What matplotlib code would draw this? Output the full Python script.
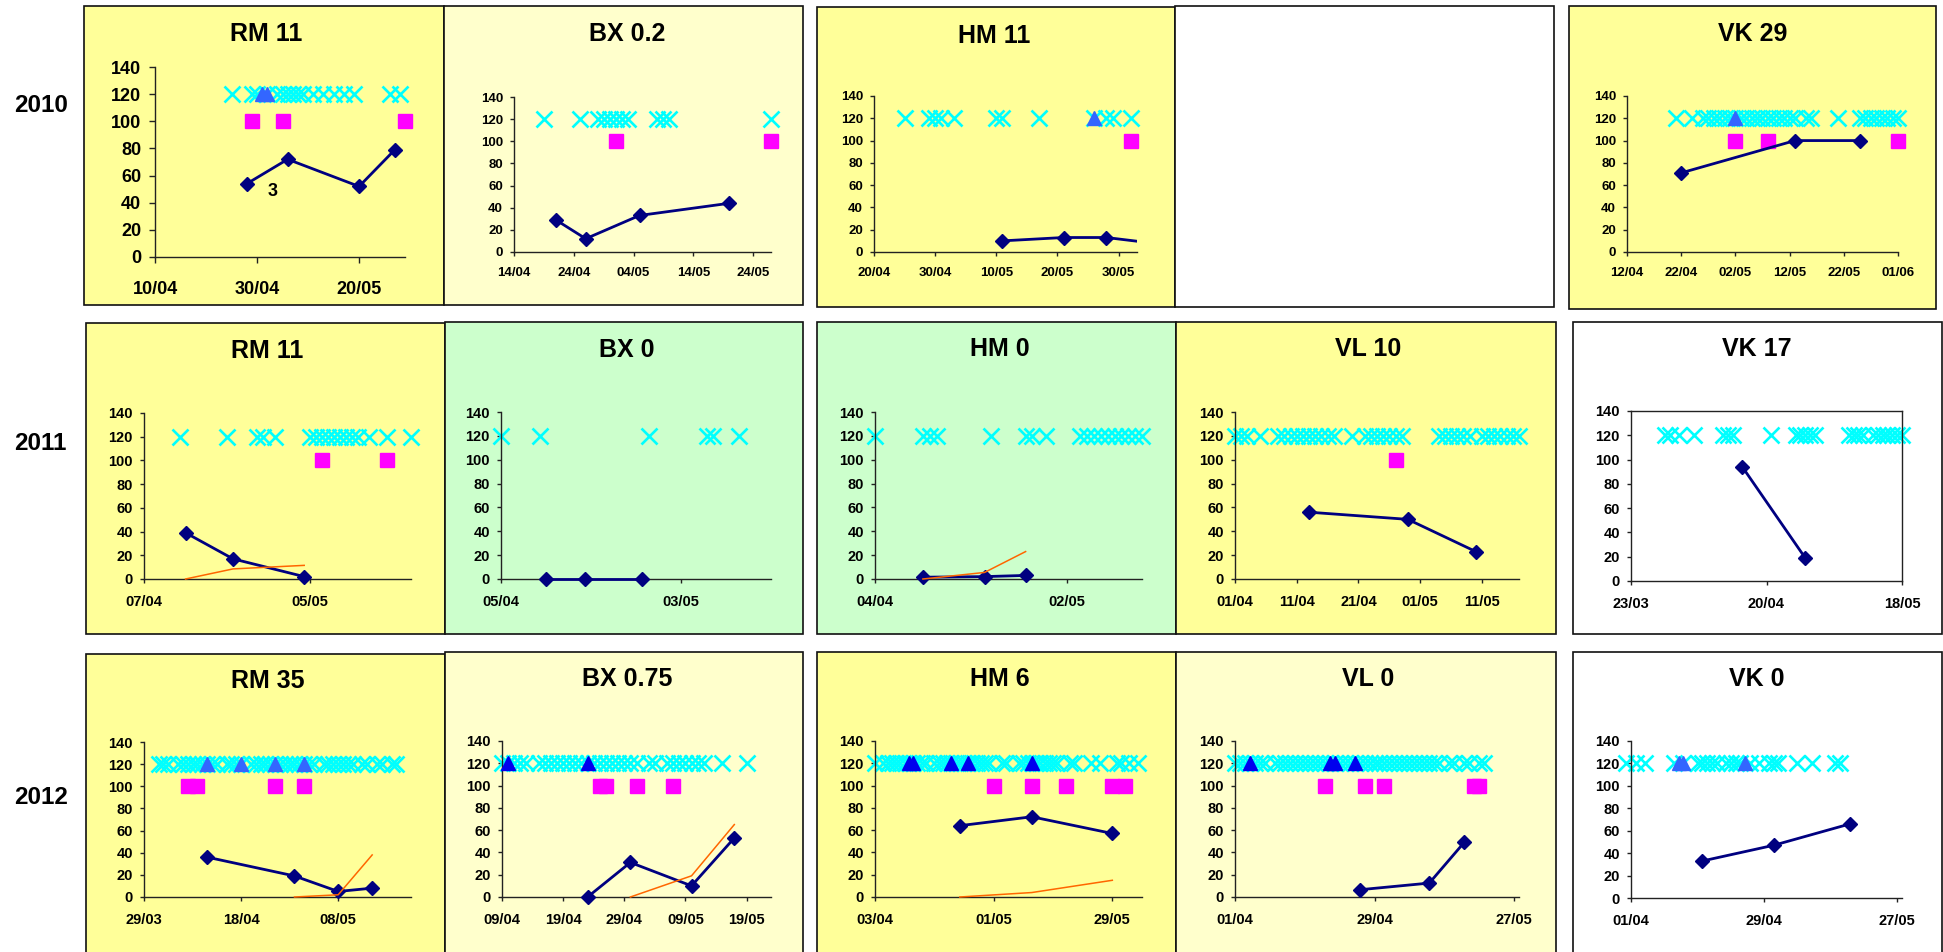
import datetime as dt
import matplotlib
matplotlib.use("Agg")
import matplotlib.pyplot as plt
import matplotlib.dates as mdates
from matplotlib.patches import Rectangle

plt.rcParams['font.family'] = ['Liberation Sans', 'DejaVu Sans']
plt.rcParams['font.weight'] = 'bold'

W, H = 1943, 952

CROSS_Y = 120
TRI_Y = 120
SQUARE_Y = 100

# ---------------- 2010 ----------------
rm10_xlim = ["04-10", "05-29"]
rm10_ticks = ["04-10", "04-30", "05-20"]
rm10_cross = ["04-25", "04-29", "04-30", "05-02", "05-04", "05-05", "05-06", "05-07", "05-08",
              "05-09", "05-11", "05-13", "05-15", "05-17", "05-19", "05-26", "05-28"]
rm10_tri = ["05-01", "05-02"]
rm10_sq = ["04-29", "05-05", "05-29"]
rm10_dia_d = ["04-28", "05-06", "05-20", "05-27"]
rm10_dia_v = [54, 72, 52, 79]

bx10_xlim = ["04-14", "05-27"]
bx10_ticks = ["04-14", "04-24", "05-04", "05-14", "05-24"]
bx10_cross = ["04-19", "04-25", "04-28", "04-29", "04-30", "05-01", "05-02", "05-03",
              "05-08", "05-09", "05-10", "05-27"]
bx10_sq = ["05-01", "05-27"]
bx10_dia_d = ["04-21", "04-26", "05-05", "05-20"]
bx10_dia_v = [29, 12, 33, 44]

hm10_xlim = ["04-20", "06-02"]
hm10_ticks = ["04-20", "04-30", "05-10", "05-20", "05-30"]
hm10_cross = ["04-25", "04-29", "04-30", "05-01", "05-03", "05-10", "05-11", "05-17",
              "05-26", "05-28", "05-29", "06-01"]
hm10_tri = ["05-26"]
hm10_sq = ["06-01"]
hm10_dia_d = ["05-11", "05-21", "05-28", "06-06"]
hm10_dia_v = [10, 13, 13, 7]

vk10_xlim = ["04-12", "06-01"]
vk10_ticks = ["04-12", "04-22", "05-02", "05-12", "05-22", "06-01"]
vk10_cross = ["04-21", "04-24", "04-26", "04-27", "04-28", "04-29", "04-30", "05-01", "05-02",
              "05-03", "05-04", "05-05", "05-06", "05-07", "05-08", "05-09", "05-10", "05-11",
              "05-12", "05-13", "05-15", "05-16", "05-21", "05-25", "05-26", "05-27", "05-28",
              "05-29", "05-30", "05-31", "06-01"]
vk10_tri = ["05-02"]
vk10_sq = ["05-02", "05-08", "06-01"]
vk10_dia_d = ["04-22", "05-13", "05-25"]
vk10_dia_v = [71, 100, 100]

# ---------------- 2011 ----------------
rm11_xlim = ["04-07", "05-22"]
rm11_ticks = ["04-07", "05-05"]
rm11_cross = ["04-13", "04-21", "04-26", "04-27", "04-29", "05-05", "05-06", "05-07", "05-08",
              "05-09", "05-10", "05-11", "05-12", "05-13", "05-15", "05-18", "05-22"]
rm11_sq = ["05-07", "05-18"]
rm11_dia_d = ["04-14", "04-22", "05-04"]
rm11_dia_v = [39, 17, 2]
rm11_org_v = [0, 8.5, 11.5]

bx11_xlim = ["04-05", "05-17"]
bx11_ticks = ["04-05", "05-03"]
bx11_cross = ["04-05", "04-11", "04-28", "05-07", "05-08", "05-12"]
bx11_dia_d = ["04-12", "04-18", "04-27"]
bx11_dia_v = [0, 0, 0]

hm11_xlim = ["04-04", "05-13"]
hm11_ticks = ["04-04", "05-02"]
hm11_cross = ["04-04", "04-11", "04-12", "04-13", "04-21", "04-26", "04-27", "04-29", "05-04",
              "05-05", "05-06", "05-07", "05-08", "05-09", "05-10", "05-11", "05-12", "05-13"]
hm11_dia_d = ["04-11", "04-20", "04-26"]
hm11_dia_v = [1.5, 2, 3]
hm11_org_v = [0, 5.5, 23]

vl11_xlim = ["04-01", "05-17"]
vl11_ticks = ["04-01", "04-11", "04-21", "05-01", "05-11"]
vl11_cross = ["04-01", "04-02", "04-03", "04-05", "04-08", "04-09", "04-10", "04-11", "04-12",
              "04-13", "04-14", "04-15", "04-16", "04-17", "04-20", "04-22", "04-23", "04-24",
              "04-25", "04-26", "04-27", "04-28", "05-04", "05-05", "05-06", "05-07", "05-08",
              "05-09", "05-11", "05-12", "05-13", "05-14", "05-15", "05-16", "05-17"]
vl11_sq = ["04-27"]
vl11_dia_d = ["04-13", "04-29", "05-10"]
vl11_dia_v = [56, 50, 23]

vk11_xlim = ["03-23", "05-18"]
vk11_ticks = ["03-23", "04-20", "05-18"]
vk11_cross = ["03-30", "03-31", "04-02", "04-05", "04-11", "04-12", "04-13", "04-21", "04-26",
              "04-27", "04-28", "04-29", "04-30", "05-07", "05-08", "05-09", "05-10", "05-12",
              "05-13", "05-14", "05-15", "05-16", "05-17", "05-18"]
vk11_dia_d = ["04-15", "04-28"]
vk11_dia_v = [94, 19]

# ---------------- 2012 ----------------
rm12_xlim = ["03-29", "05-23"]
rm12_ticks = ["03-29", "04-18", "05-08"]
rm12_cross = ["04-01", "04-02", "04-03", "04-05", "04-06", "04-07", "04-08", "04-09", "04-10",
              "04-11", "04-12", "04-13", "04-15", "04-16", "04-17", "04-18", "04-20", "04-21",
              "04-22", "04-23", "04-24", "04-25", "04-26", "04-27", "04-28", "04-29", "04-30",
              "05-01", "05-02", "05-03", "05-05", "05-06", "05-07", "05-08", "05-09", "05-10",
              "05-11", "05-13", "05-14", "05-16", "05-17", "05-19", "05-20"]
rm12_tri = ["04-11", "04-18", "04-25", "05-01"]
rm12_sq = ["04-07", "04-09", "04-25", "05-01"]
rm12_dia_d = ["04-11", "04-29", "05-08", "05-15"]
rm12_dia_v = [36, 19, 5, 8]
rm12_org_d = ["04-29", "05-08", "05-15"]
rm12_org_v = [0, 2, 38]

bx12_xlim = ["04-09", "05-23"]
bx12_ticks = ["04-09", "04-19", "04-29", "05-09", "05-19"]
bx12_cross = ["04-09", "04-10", "04-11", "04-12", "04-13", "04-15", "04-16", "04-17", "04-18",
              "04-19", "04-20", "04-21", "04-22", "04-23", "04-24", "04-25", "04-26", "04-27",
              "04-28", "04-29", "04-30", "05-01", "05-03", "05-04", "05-06", "05-07", "05-08",
              "05-09", "05-10", "05-11", "05-12", "05-15", "05-19"]
bx12_tri = ["04-10", "04-23"]
bx12_sq = ["04-25", "04-26", "05-01", "05-07"]
bx12_dia_d = ["04-23", "04-30", "05-10", "05-17"]
bx12_dia_v = [0, 31, 10, 53]
bx12_org_d = ["04-30", "05-10", "05-17"]
bx12_org_v = [0, 19, 65]

hm12_xlim = ["04-03", "06-05"]
hm12_ticks = ["04-03", "05-01", "05-29"]
hm12_cross = ["04-03", "04-05", "04-06", "04-07", "04-08", "04-09", "04-10", "04-11", "04-12",
              "04-13", "04-14", "04-15", "04-17", "04-18", "04-19", "04-20", "04-21", "04-22",
              "04-23", "04-24", "04-25", "04-26", "04-27", "04-28", "04-29", "04-30", "05-03",
              "05-04", "05-07", "05-08", "05-09", "05-10", "05-11", "05-12", "05-13", "05-14",
              "05-15", "05-16", "05-19", "05-20", "05-24", "05-26", "05-30", "05-31", "06-02",
              "06-04"]
hm12_tri = ["04-11", "04-12", "04-21", "04-25", "05-10"]
hm12_sq = ["05-01", "05-10", "05-18", "05-29", "06-01"]
hm12_dia_d = ["04-23", "05-10", "05-29"]
hm12_dia_v = [64, 72, 57]
hm12_org_v = [0, 4, 15]

vl12_xlim = ["04-01", "05-28"]
vl12_ticks = ["04-01", "04-29", "05-27"]
vl12_cross = ["04-01", "04-02", "04-03", "04-04", "04-05", "04-06", "04-07", "04-09", "04-10",
              "04-11", "04-12", "04-13", "04-14", "04-15", "04-16", "04-17", "04-18", "04-19",
              "04-20", "04-21", "04-22", "04-23", "04-24", "04-25", "04-26", "04-27", "04-28",
              "04-29", "04-30", "05-01", "05-02", "05-03", "05-04", "05-05", "05-06", "05-07",
              "05-08", "05-09", "05-10", "05-11", "05-12", "05-14", "05-15", "05-17", "05-18",
              "05-20", "05-21"]
vl12_tri = ["04-04", "04-20", "04-21", "04-25"]
vl12_sq = ["04-19", "04-27", "05-01", "05-19", "05-20"]
vl12_dia_d = ["04-26", "05-10", "05-17"]
vl12_dia_v = [6.5, 12.5, 49]

vk12_xlim = ["04-01", "05-28"]
vk12_ticks = ["04-01", "04-29", "05-27"]
vk12_cross = ["03-31", "04-02", "04-04", "04-10", "04-12", "04-15", "04-16", "04-17", "04-18",
              "04-19", "04-21", "04-22", "04-23", "04-24", "04-26", "04-28", "04-30", "05-01",
              "05-02", "05-06", "05-09", "05-14", "05-15"]
vk12_tri = ["04-11", "04-12", "04-25"]
vk12_dia_d = ["04-16", "05-01", "05-17"]
vk12_dia_v = [33, 47, 66]

YELLOW = "#FFFF99"
PALE = "#FFFFCC"
GREEN = "#CCFFCC"
WHITE = "#FFFFFF"
ROYAL = "#3366FF"
BLUE = "#0000EE"


def days(year, items):
    return [dt.date(year, int(s[:2]), int(s[3:])) for s in items]


fig = plt.figure(figsize=(W / 100, H / 100), dpi=100)
fig.patch.set_facecolor("white")


def box(x0, x1, top, bottom, color):
    fig.add_artist(Rectangle((x0 / W, 1 - bottom / H), (x1 - x0) / W, (bottom - top) / H,
                             transform=fig.transFigure, facecolor=color,
                             edgecolor="#111111", lw=1.2, zorder=-10))


def panel(year, title, bg, rect, title_xy, axpx, xlim, ticks, cross, dia_d, dia_v,
          tri=None, sq=None, org_d=None, org_v=None, tri_col=ROYAL, fs=10.5, xpad=8.5,
          ypad=5, tlen=3, frame=False):
    box(*rect, bg)
    fig.text(title_xy[0] / W, 1 - title_xy[1] / H, title, ha="center", va="center",
             fontsize=18, fontweight="bold")
    left, right, y0, y140 = axpx
    ax = fig.add_axes([left / W, 1 - y0 / H, (right - left) / W, (y0 - y140) / H])
    ax.set_facecolor("none")
    lo, hi = days(year, xlim)

    cd = days(year, cross)
    ax.plot(cd, [CROSS_Y] * len(cd), ls="none", marker="x", ms=11, mew=1.9,
            color="#00FFFF", clip_on=False, zorder=2)
    if tri:
        td = days(year, tri)
        ax.plot(td, [TRI_Y] * len(td), ls="none", marker="^", ms=10.5, mfc=tri_col,
                mec=tri_col, clip_on=False, zorder=3)
    if sq:
        sd = days(year, sq)
        ax.plot(sd, [SQUARE_Y] * len(sd), ls="none", marker="s", ms=9.5, mfc="#FF00FF",
                mec="#FF00FF", clip_on=False, zorder=3)

    dd = days(year, dia_d)
    outside = any(d > hi for d in dd)
    ax.plot(dd, dia_v, color="#000080", lw=2, zorder=4, clip_on=outside)
    inside = [(d, v) for d, v in zip(dd, dia_v) if lo <= d <= hi]
    ax.plot([p[0] for p in inside], [p[1] for p in inside], ls="none", marker="D", ms=7,
            color="#000080", clip_on=False, zorder=4)
    if org_v is not None:
        od = days(year, org_d if org_d else dia_d)
        ax.plot(od, org_v, color="#FF6600", lw=1.1, zorder=5, clip_on=False)

    ax.set_xlim(lo, hi)
    ax.set_ylim(0, 140)
    ax.set_yticks(range(0, 141, 20))
    ax.set_xticks(days(year, ticks))
    ax.xaxis.set_major_formatter(mdates.DateFormatter("%d/%m"))
    for s in ["top", "right"]:
        ax.spines[s].set_visible(frame)
    for s in ax.spines.values():
        s.set_color("#222222")
        s.set_linewidth(1.0)
    ax.tick_params(direction="out", length=tlen, width=1, color="#222222",
                   labelsize=fs, labelcolor="black")
    ax.tick_params(axis="x", pad=xpad)
    ax.tick_params(axis="y", pad=ypad)
    return ax


# ---- row 2010 ----
ax = panel(2010, "RM 11", YELLOW, (84, 444, 6, 305), (266, 34), (155, 405, 257, 67),
           rm10_xlim, rm10_ticks, rm10_cross, rm10_dia_d, rm10_dia_v, tri=rm10_tri,
           sq=rm10_sq, fs=13, xpad=12.5, ypad=5.5, tlen=4.5)
ax.text(dt.date(2010, 5, 3), 48, "3", ha="center", va="center", fontsize=13,
        fontweight="bold")
panel(2010, "BX 0.2", PALE, (444, 803, 6, 305), (627, 34), (514, 771, 252, 97),
      bx10_xlim, bx10_ticks, bx10_cross, bx10_dia_d, bx10_dia_v, sq=bx10_sq, fs=9.5, xpad=8)
panel(2010, "HM 11", YELLOW, (817, 1175, 7, 307), (994, 36), (874, 1137, 252, 96),
      hm10_xlim, hm10_ticks, hm10_cross, hm10_dia_d, hm10_dia_v, tri=hm10_tri,
      sq=hm10_sq, fs=9.5, xpad=8)
box(1175, 1554, 6, 307, WHITE)
panel(2010, "VK 29", YELLOW, (1569, 1936, 6, 309), (1753, 34), (1627, 1898, 252, 96),
      vk10_xlim, vk10_ticks, vk10_cross, vk10_dia_d, vk10_dia_v, tri=vk10_tri,
      sq=vk10_sq, fs=9.5, xpad=8)

# ---- row 2011 ----
panel(2011, "RM 11", YELLOW, (86, 445, 323, 634), (267, 351), (144, 411, 579, 413),
      rm11_xlim, rm11_ticks, rm11_cross, rm11_dia_d, rm11_dia_v, sq=rm11_sq,
      org_v=rm11_org_v)
panel(2011, "BX 0", GREEN, (445, 803, 322, 634), (627, 350), (501, 771, 579, 412),
      bx11_xlim, bx11_ticks, bx11_cross, bx11_dia_d, bx11_dia_v)
panel(2011, "HM 0", GREEN, (817, 1176, 322, 634), (1000, 349), (875, 1142, 579, 412),
      hm11_xlim, hm11_ticks, hm11_cross, hm11_dia_d, hm11_dia_v, org_v=hm11_org_v)
panel(2011, "VL 10", YELLOW, (1176, 1556, 322, 634), (1368, 349), (1235, 1519, 579, 412),
      vl11_xlim, vl11_ticks, vl11_cross, vl11_dia_d, vl11_dia_v, sq=vl11_sq)
panel(2011, "VK 17", WHITE, (1573, 1942, 322, 634), (1757, 349), (1631, 1902, 581, 411),
      vk11_xlim, vk11_ticks, vk11_cross, vk11_dia_d, vk11_dia_v, frame=True)

# ---- row 2012 ----
panel(2012, "RM 35", YELLOW, (86, 445, 654, 990), (268, 681), (144, 411, 897, 742),
      rm12_xlim, rm12_ticks, rm12_cross, rm12_dia_d, rm12_dia_v, tri=rm12_tri,
      sq=rm12_sq, org_d=rm12_org_d, org_v=rm12_org_v)
panel(2012, "BX 0.75", PALE, (445, 803, 652, 990), (627, 679), (502, 771, 897, 741),
      bx12_xlim, bx12_ticks, bx12_cross, bx12_dia_d, bx12_dia_v, tri=bx12_tri,
      sq=bx12_sq, org_d=bx12_org_d, org_v=bx12_org_v, tri_col=BLUE)
panel(2012, "HM 6", YELLOW, (817, 1176, 652, 990), (1000, 679), (875, 1142, 897, 741),
      hm12_xlim, hm12_ticks, hm12_cross, hm12_dia_d, hm12_dia_v, tri=hm12_tri,
      sq=hm12_sq, org_v=hm12_org_v, tri_col=BLUE)
panel(2012, "VL 0", PALE, (1176, 1556, 652, 990), (1368, 679), (1235, 1519, 897, 741),
      vl12_xlim, vl12_ticks, vl12_cross, vl12_dia_d, vl12_dia_v, tri=vl12_tri,
      sq=vl12_sq, tri_col=BLUE)
panel(2012, "VK 0", WHITE, (1573, 1942, 652, 990), (1757, 679), (1631, 1902, 898, 741),
      vk12_xlim, vk12_ticks, vk12_cross, vk12_dia_d, vk12_dia_v, tri=vk12_tri)

for label, x, y in [("2010", 41, 106), ("2011", 40, 444), ("2012", 41, 797)]:
    fig.text(x / W, 1 - y / H, label, ha="center", va="center", fontsize=17.5,
             fontweight="bold")

fig.savefig("out.png", dpi=100)
